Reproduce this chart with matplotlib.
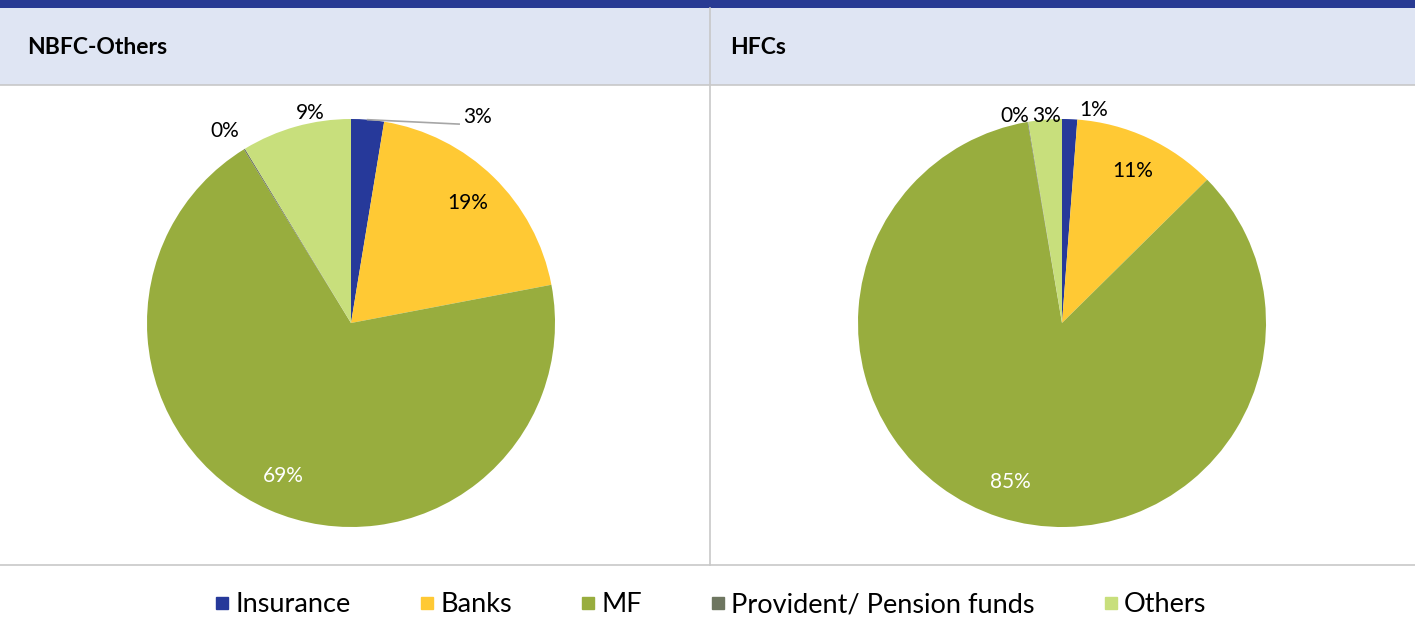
import numpy as np
import matplotlib.pyplot as plt
from matplotlib.patches import Rectangle
from matplotlib.lines import Line2D

plt.rcParams['font.family'] = ['Lato', 'DejaVu Sans']

categories = ["Insurance", "Banks", "MF", "Provident/ Pension funds", "Others"]
colors = ["#26399A", "#FFC934", "#98AD3E", "#6E7660", "#C8DF7C"]

panel_titles = ["NBFC-Others", "HFCs"]
nbfc_others = [2.6, 19.4, 69.2, 0.1, 8.7]
hfcs = [1.2, 11.4, 84.7, 0.05, 2.65]

W, H = 1415, 619
fig = plt.figure(figsize=(W / 100, H / 100), dpi=100)
bg = fig.add_axes([0, 0, 1, 1])
bg.set_xlim(0, W)
bg.set_ylim(H, 0)
bg.axis("off")

# header bands and grid lines
bg.add_patch(Rectangle((0, 0), W, 8, color="#283A93", lw=0))
bg.add_patch(Rectangle((0, 8), W, 77, color="#DFE5F3", lw=0))
bg.plot([0, W], [85, 85], color="#C8C8C8", lw=1.2)
bg.plot([0, W], [565, 565], color="#C8C8C8", lw=1.2)
bg.plot([710, 710], [8, 565], color="#C8C8C8", lw=1.2)
bg.text(27, 48, panel_titles[0], fontsize=16.5, fontweight="bold", va="center")
bg.text(730, 48, panel_titles[1], fontsize=16.5, fontweight="bold", va="center")

R = 204
FS = 15


def draw_pie(cx, cy, values, outside):
    ax = fig.add_axes([(cx - R) / W, (H - cy - R) / H, 2 * R / W, 2 * R / H])
    wedges, _ = ax.pie(values, colors=colors, startangle=90, counterclock=False,
                       radius=1, wedgeprops=dict(lw=0))
    ax.set_xlim(-1, 1)
    ax.set_ylim(-1, 1)
    ax.axis("off")
    for i, (w, v) in enumerate(zip(wedges, values)):
        lab = f"{v:.0f}%"
        mid = np.deg2rad((w.theta1 + w.theta2) / 2)
        if i in outside:
            x, y = outside[i]
            ax.text(x, y, lab, fontsize=FS, ha="center", va="center", clip_on=False)
        else:
            col = "white" if v > 50 else "black"
            ax.text(0.82 * np.cos(mid), 0.82 * np.sin(mid), lab, fontsize=FS,
                    ha="center", va="center", color=col)
    return ax, wedges


ax1, w1 = draw_pie(351, 323, nbfc_others,
                   {0: (0.62, 1.01), 3: (-0.62, 0.94), 4: (-0.2, 1.03)})
mid = np.deg2rad((w1[0].theta1 + w1[0].theta2) / 2)
ax1.plot([np.cos(mid), 0.53], [np.sin(mid), 0.975], color="#A6A6A6", lw=1.2,
         clip_on=False)

ax2, w2 = draw_pie(1062, 323, hfcs,
                   {0: (0.155, 1.045), 3: (-0.23, 1.015), 4: (-0.075, 1.015)})

handles = [Line2D([], [], marker="s", ls="", color=c, markersize=8) for c in colors]
fig.legend(handles, categories, loc="center", bbox_to_anchor=(0.5, 1 - 605 / H),
           ncol=5, frameon=False, fontsize=19.5, handletextpad=0.0,
           handlelength=1.0, columnspacing=2.3)

fig.savefig("out.png", dpi=100)
